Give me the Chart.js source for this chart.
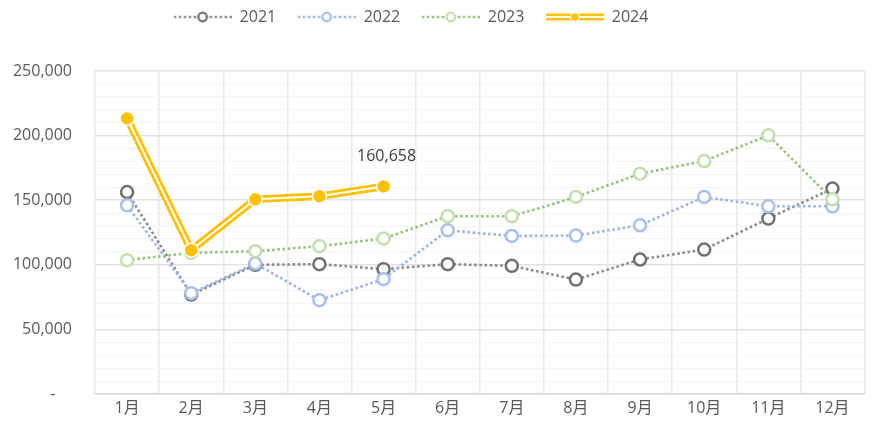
<!DOCTYPE html>
<html>
<head>
<meta charset="utf-8">
<script src="https://cdn.jsdelivr.net/npm/chart.js@4/dist/chart.umd.min.js"></script>
<style>
html,body{margin:0;padding:0;background:#fff;}
#wrap{width:873px;height:430px;}
</style>
</head>
<body>
<div id="wrap"><canvas id="c" width="873" height="430"></canvas></div>
<script>
const months = ['1月','2月','3月','4月','5月','6月','7月','8月','9月','10月','11月','12月'];
const seriesNames = ['2021','2022','2023','2024'];
const v2021 = [156300, 77000, 100000, 100500, 96600, 100500, 99200, 88600, 104100, 111800, 135800, 159000];
const v2022 = [146000, 78000, 101000, 72600, 88900, 126700, 122300, 122600, 130600, 152500, 145300, 145300];
const v2023 = [103600, 109300, 110500, 114400, 120300, 137600, 137600, 152500, 170500, 180300, 200200, 150700];
const v2024 = [213300, 111300, 150700, 153000, 160658, null, null, null, null, null, null, null];
const yTickMax = 250000;
const yMinorStep = 10000;
const yMajorStep = 50000;

const FONT = "'Open Sans','Noto Sans CJK JP',sans-serif";
const TXT = '#595959';

const styles = {
  '2021': {line:'#8c8c8c', mark:'#707070'},
  '2022': {line:'#9cb5e4', mark:'#a9c0ea'},
  '2023': {line:'#93c47d', mark:'#c3dfb0'},
  '2024': {line:'#ffc000', mark:'#ffc000'}
};

function legendSample(name){
  const c = document.createElement('canvas');
  c.width = 58; c.height = 16;
  const g = c.getContext('2d');
  const s = styles[name];
  const cy = 8;
  if (name === '2024') {
    g.strokeStyle = s.line; g.lineWidth = 7;
    g.beginPath(); g.moveTo(0,cy); g.lineTo(58,cy); g.stroke();
    g.strokeStyle = '#fff'; g.lineWidth = 2;
    g.beginPath(); g.moveTo(0,cy); g.lineTo(58,cy); g.stroke();
    g.fillStyle = s.mark; g.strokeStyle = '#fff'; g.lineWidth = 1.2;
    g.beginPath(); g.arc(29,cy,4.3,0,Math.PI*2); g.fill(); g.stroke();
  } else {
    g.strokeStyle = s.line; g.lineWidth = 2.5; g.setLineDash([2.5,2.5]);
    g.beginPath(); g.moveTo(0,cy); g.lineTo(23,cy); g.moveTo(36,cy); g.lineTo(58,cy); g.stroke();
    g.setLineDash([]);
    g.fillStyle = '#fff'; g.strokeStyle = s.mark; g.lineWidth = 2.3;
    g.beginPath(); g.arc(29,cy,4.3,0,Math.PI*2); g.fill(); g.stroke();
  }
  return c;
}

function dotted(name, data, order){
  const s = styles[name];
  return {
    label: name, data: data, order: order,
    borderColor: s.line, borderWidth: 2.6, borderDash: [2.6,2.6], borderCapStyle:'butt',
    pointRadius: 6, pointBorderWidth: 2.5, pointBackgroundColor: '#fff', pointBorderColor: s.mark,
    pointHoverRadius: 6, tension: 0, fill: false
  };
}

const datasets = [
  dotted('2021', v2021, 6),
  dotted('2022', v2022, 5),
  dotted('2023', v2023, 4),
  {label:'2024', data: v2024, order: 3, borderColor:'#ffc000', borderWidth: 7.5, pointRadius: 0, tension:0, fill:false},
  {label:'2024-inner', data: v2024, order: 2, borderColor:'#ffffff', borderWidth: 2, pointRadius: 0, tension:0, fill:false},
  {label:'2024-pts', data: v2024, order: 1, showLine:false, pointRadius: 7, pointBorderWidth: 1.5,
   pointBackgroundColor:'#ffc000', pointBorderColor:'#ffffff', pointHoverRadius:7}
];

const legendFitPlugin = {
  id: 'legendFit',
  beforeInit(chart){
    const orig = chart.legend.fit;
    chart.legend.fit = function(){ orig.call(this); this.height = 71; };
  },
  afterLayout(chart){
    chart.legend.right -= 50;
  }
};

const dataLabelPlugin = {
  id: 'lastLabel',
  afterDatasetsDraw(chart){
    const meta = chart.getDatasetMeta(5);
    let idx = -1;
    v2024.forEach((v,i)=>{ if (v !== null) idx = i; });
    if (idx < 0) return;
    const el = meta.data[idx];
    const ctx = chart.ctx;
    ctx.save();
    ctx.font = "16px " + FONT;
    ctx.fillStyle = '#404040';
    ctx.textAlign = 'center';
    ctx.textBaseline = 'middle';
    ctx.fillText(v2024[idx].toLocaleString('en-US'), el.x + 3, el.y - 30);
    ctx.restore();
  }
};

new Chart(document.getElementById('c'), {
  type: 'line',
  data: { labels: months, datasets: datasets },
  options: {
    responsive: false,
    animation: false,
    devicePixelRatio: 1,
    layout: { padding: { left: 0, right: 1, top: 0, bottom: 0 } },
    plugins: {
      tooltip: { enabled: false },
      legend: {
        position: 'top',
        onClick: null,
        labels: {
          usePointStyle: true,
          pointStyleWidth: 58,
          padding: 9,
          color: TXT,
          font: { family: FONT, size: 16 },
          generateLabels(chart){
            return seriesNames.map((n,i)=>({
              text: n + (i < seriesNames.length - 1 ? '   ' : ''),
              pointStyle: legendSample(n),
              fillStyle: 'transparent', strokeStyle: 'transparent', lineWidth: 0,
              hidden: false, datasetIndex: i, fontColor: TXT
            }));
          }
        }
      }
    },
    scales: {
      x: {
        type: 'category',
        offset: true,
        grid: { display: true, offset: true, color: '#e8e8e8', lineWidth: 1.5, drawTicks: false },
        border: { display: true, color: '#d9d9d9', width: 1.5 },
        ticks: { color: TXT, font: { family: FONT, size: 16 }, padding: 5, autoSkip: false, maxRotation: 0 },
        afterFit(scale){ scale.height = 36; }
      },
      y: {
        min: 0, max: yTickMax,
        grid: {
          drawTicks: false,
          color: (ctx) => (ctx.tick && ctx.tick.value % yMajorStep === 0) ? '#e2e2e2' : '#f4f4f4',
          lineWidth: (ctx) => (ctx.tick && ctx.tick.value % yMajorStep === 0) ? 1.5 : 1
        },
        border: { display: false },
        ticks: {
          stepSize: yMinorStep, autoSkip: false, padding: 23, color: TXT,
          font: { family: FONT, size: 16 },
          callback(v){
            if (v === 0) return '-    ';
            if (v % yMajorStep === 0) return v.toLocaleString('en-US');
            return '';
          }
        },
        afterFit(scale){ scale.width = 95; }
      }
    }
  },
  plugins: [legendFitPlugin, dataLabelPlugin]
});
</script>
</body>
</html>
